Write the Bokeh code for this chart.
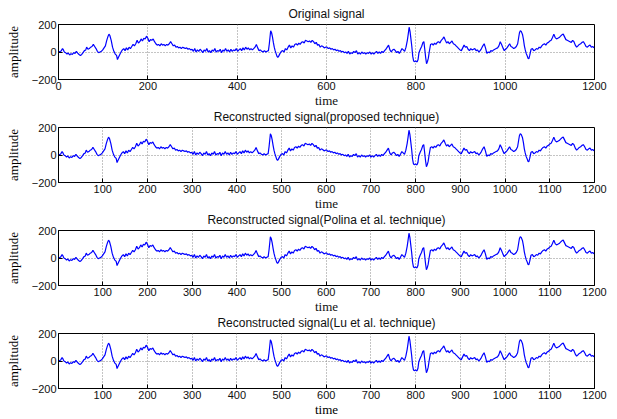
from bokeh.plotting import figure
from bokeh.layouts import column
from bokeh.models import FixedTicker, Range1d, Title
from bokeh.embed import file_html
from bokeh.resources import INLINE

# ---- data (sample index, amplitude) ----
sample_idx = [
    0, 3, 6, 9, 11, 13, 16, 19, 22, 25, 28, 31, 34, 37, 40, 43, 46, 49, 52, 55,
    58, 61, 63, 66, 69, 72, 75, 78, 81, 84, 87, 90, 93, 96, 99, 102, 105, 108, 111, 113,
    115, 118, 121, 124, 127, 130, 132, 134, 137, 140,
    143, 146, 149, 152, 155, 158, 161, 164, 167, 170, 173, 176, 179, 182, 185, 188, 191, 194, 197, 200,
    203, 206, 209, 212, 215, 218, 221, 224, 227, 230, 233, 236, 239, 242, 245, 248, 251, 254, 257, 260,
    263, 266, 269, 272, 275, 278, 281, 284, 287, 290, 293, 296, 299,
    302, 305, 308, 311, 314, 317, 320, 323, 326, 329, 332, 335, 338, 341, 344, 347, 350, 353, 356, 359,
    362, 365, 368, 371, 374, 377, 380, 383, 386, 389, 392, 395, 398, 401, 404, 407, 410, 413, 416, 419,
    422, 425, 428, 431, 434, 437, 440, 443, 446, 449, 452, 455, 458, 461, 464, 467, 470,
    472, 475, 477, 479, 481, 483, 485, 487, 489, 491, 493,
    496, 499, 502, 505, 508, 511, 514, 517, 520, 523, 526, 529, 532, 535, 538, 541, 544, 547, 550, 553,
    556, 559, 562, 565, 568, 571, 574, 577, 580, 583, 586, 589, 592, 595, 598,
    601, 604, 607, 610, 613, 616, 619, 622, 625, 628, 631, 634, 637, 640, 643, 646, 649, 652, 655, 658,
    661, 664, 667, 670, 673, 676, 679, 682, 685, 688, 691, 694, 697, 700, 703, 706, 709, 712, 715, 718,
    721, 724, 727, 730, 733, 736, 739, 742, 745, 748, 751, 754, 757, 760, 763, 766, 769, 772, 775, 778,
    781, 783, 785, 787, 789, 791, 793, 795, 797, 800, 803, 805, 807, 810, 813, 816, 818, 820, 822, 824,
    826, 828, 830, 833,
    836, 839, 842, 845, 848, 851, 854, 857, 860, 863, 866, 869, 872, 875, 878, 881, 884, 887, 890, 893,
    896, 899, 902, 905, 908, 911, 914, 917, 920, 923, 926, 929, 932, 935, 938, 941, 944, 947, 950, 953,
    956, 959, 962, 965, 968, 971, 974, 977, 980, 983, 986, 989, 992, 995, 998, 1001, 1004, 1007, 1010, 1013,
    1016, 1019, 1022, 1025, 1028,
    1030, 1032, 1034, 1036, 1039, 1041, 1043, 1045, 1047, 1049, 1051, 1053, 1055, 1058,
    1061, 1064, 1067, 1070, 1073, 1076, 1079, 1082, 1085, 1088, 1091, 1094, 1097, 1100, 1103, 1106, 1109, 1112, 1115, 1118,
    1121, 1124, 1127, 1130, 1133, 1136, 1139, 1142, 1145, 1148, 1151, 1154, 1157, 1160, 1163, 1166, 1169, 1172, 1175, 1178,
    1181, 1184, 1187, 1190, 1193, 1196, 1199,
]

original_amp = [
    5, 2, 8, 25, 15, 0, -5, -15, -8, -22, -12, -18, -5, -10, 5, -8, -18, -25, -18, -5,
    10, 15, 35, 20, 25, 35, 40, 55, 40, 25, 5, -5, 0, 5, 15, 30, 45, 85, 115, 130,
    120, 85, 35, 5, -15, -25, -55, -40, -20, 0,
    15, 25, 10, 30, 15, 35, 25, 40, 55, 45, 60, 85, 65, 75, 95, 80, 100, 95, 115, 100,
    75, 90, 85, 95, 75, 60, 50, 55, 45, 60, 50, 55, 45, 55, 50, 60, 75, 60, 45, 50,
    35, 40, 30, 35, 25, 35, 30, 25, 30, 20, 25, 15, 20,
    5, 25, 0, 15, 5, 20, 10, -5, 15, 5, 25, 0, 10, -5, 15, 5, 25, 0, 10, 5,
    20, -5, 15, 5, 25, 5, 15, 0, 20, 5, 15, 10, 25, 5, 15, 25, 10, 30, 15, 35,
    20, 30, 15, 25, 15, 25, 35, 55, 30, 10, 15, 5, 0, 10, 0, 5, 10,
    60, 155, 140, 110, 70, 35, 10, -10, -30, -40, -30,
    -10, 5, 10, 0, 25, 15, 35, 50, 30, 45, 35, 55, 60, 50, 65, 55, 70, 75, 65, 85,
    80, 75, 80, 70, 85, 75, 60, 70, 50, 55, 35, 45, 40, 30, 35,
    35, 25, 30, 20, 25, 15, 20, 10, 15, 5, 10, 0, 5, -5, 0, -10, 5, -15, -5, -10,
    5, -5, 10, -15, -5, -15, 0, -10, -5, -15, -5, -10, 0, -15, -5, -15, -5, 5, -10, 0,
    -10, 5, -5, 10, 20, 35, 50, 15, 0, 15, 20, 10, -5, 5, -10, 5, 25, 15, 5, 35,
    85, 130, 180, 150, 95, 40, -30, -65, -70, -65, -72, -55, -5, 20, 40, 70, 75, 20, -40, -85,
    -70, -45, 0, 55,
    60, 50, 65, 55, 70, 75, 65, 85, 95, 110, 85, 65, 75, 60, 70, 80, 60, 55, 45, 35,
    25, 15, 10, 30, 50, 35, 40, 20, 10, 25, 15, 20, 25, 10, 15, 0, 10, 25, 45, 60,
    30, -10, 0, -5, 10, 5, 15, 20, 25, 30, 45, 75, 55, 30, 10, 20, 30, 45, 60, 40,
    35, 25, 30, 40, 60,
    100, 140, 155, 150, 125, 90, 45, 15, -10, -25, -45, -50, -25, 20,
    25, 10, 15, 25, 20, 35, 30, 45, 55, 60, 50, 65, 70, 80, 85, 105, 130, 105, 95, 100,
    105, 115, 125, 130, 110, 90, 85, 80, 75, 70, 85, 75, 50, 35, 45, 55, 60, 70, 75, 60,
    40, 35, 45, 50, 35, 40, 30,
]

# the three reconstructions are visually identical to the original
proposed_amp = original_amp
polina_amp = original_amp
lu_amp = original_amp

titles = [
    "Original signal",
    "Reconstructed signal(proposed technique)",
    "Reconstructed signal(Polina et al. technique)",
    "Reconstructed signal(Lu et al. technique)",
]
xlabel = "time"
ylabel = "amplitude"
xticks_first = [0, 200, 400, 600, 800, 1000, 1200]
xticks_rest = [100, 200, 300, 400, 500, 600, 700, 800, 900, 1000, 1100, 1200]
yticks = [-200, 0, 200]

FRAME_H = 55


def style_title(tt, text, font, size, standoff):
    tt.text = text
    tt.align = "center"
    tt.text_font = font
    tt.text_font_size = size
    tt.text_font_style = "normal"
    tt.text_color = "#111111"
    tt.standoff = standoff


def make_panel(title, t, a, xticks, xstart, top, bottom, prev_xlabel, own_xlabel):
    p = figure(width=617, height=top + FRAME_H + bottom, output_backend="svg",
               toolbar_location=None,
               x_range=Range1d(xstart, 1200), y_range=Range1d(-200, 200),
               min_border_left=58, min_border_right=23,
               min_border_top=top, min_border_bottom=bottom)
    if prev_xlabel:
        # own title closest to the frame, then the x-axis label of the panel above
        p.add_layout(Title(text=title, align="center", text_font="Liberation Sans",
                           text_font_size="12px", text_font_style="normal",
                           text_color="#111111", standoff=8), "above")
        style_title(p.title, xlabel, "Liberation Serif", "13px", -9)
    else:
        style_title(p.title, title, "Liberation Sans", "12px", 8)

    p.line(t, a, line_color="#0000FF", line_width=1.2)
    p.outline_line_color = "black"
    p.outline_line_alpha = 1
    p.outline_line_width = 1
    p.background_fill_color = "white"
    p.border_fill_color = "white"

    for ax in p.xaxis:
        ax.ticker = FixedTicker(ticks=xticks)
    for ax in p.yaxis:
        ax.ticker = FixedTicker(ticks=yticks)
    for ax in list(p.xaxis) + list(p.yaxis):
        ax.major_tick_in = 4
        ax.major_tick_out = 0
        ax.minor_tick_line_color = None
        ax.axis_line_color = "black"
        ax.major_tick_line_color = "black"
        ax.major_label_text_font = "Liberation Sans"
        ax.major_label_text_font_size = "11px"
        ax.major_label_text_color = "#111111"
        ax.major_label_standoff = 2
        ax.axis_label_text_font = "Liberation Serif"
        ax.axis_label_text_font_style = "normal"
        ax.axis_label_text_color = "black"
    if own_xlabel:
        p.xaxis.axis_label = xlabel
        p.xaxis.axis_label_text_font_size = "13px"
        p.xaxis.axis_label_standoff = 0
    p.yaxis.axis_label = ylabel
    p.yaxis.axis_label_text_font_size = "13px"
    p.yaxis.axis_label_standoff = 8

    for grid in (p.xgrid, p.ygrid):
        grid.grid_line_color = "#888888"
        grid.grid_line_dash = "1 2"
        grid.grid_line_width = 1
    p.xgrid.ticker = FixedTicker(ticks=xticks)
    p.ygrid.ticker = FixedTicker(ticks=yticks)
    return p


panels = []
data = [original_amp, proposed_amp, polina_amp, lu_amp]
tops = [24, 33, 33, 33]
bottoms = [15, 15, 15, 31]
for i in range(4):
    xt = xticks_first if i == 0 else xticks_rest
    xs = 0 if i == 0 else 1
    panels.append(make_panel(titles[i], sample_idx, data[i], xt, xs, tops[i], bottoms[i],
                             prev_xlabel=(i > 0), own_xlabel=(i == 3)))

layout = column(*panels, spacing=0)
open("out.html", "w").write(file_html(layout, INLINE))
